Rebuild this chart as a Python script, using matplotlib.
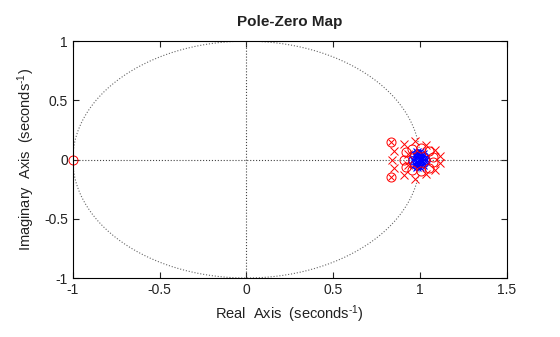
import numpy as np
import matplotlib
matplotlib.use('Agg')
import matplotlib.pyplot as plt

plt.rcParams['font.family'] = ['Liberation Sans', 'DejaVu Sans']
plt.rcParams['mathtext.fontset'] = 'custom'
plt.rcParams['mathtext.rm'] = 'Liberation Sans'
plt.rcParams['mathtext.default'] = 'regular'

# poles (red x) and zeros (red o) of the main system
pole_re = [0.838, 0.850, 0.850, 0.908, 0.908, 0.972, 0.972, 1.035, 1.035, 1.085, 1.085, 1.115, 1.115, 0.930, 0.930]
pole_im = [0.000, 0.070, -0.070, 0.130, -0.130, 0.160, -0.160, 0.125, -0.125, 0.085, -0.085, 0.030, -0.030, 0.045, -0.045]
zero_re = [-1.0, 0.905, 0.918, 0.918, 0.955, 0.955, 1.005, 1.005, 1.050, 1.050, 1.075, 1.075]
zero_im = [0.0, 0.000, 0.060, -0.060, 0.090, -0.090, 0.095, -0.095, 0.070, -0.070, 0.020, -0.020]
# coincident pole/zero pair
pz_re = [0.832, 0.832]
pz_im = [0.145, -0.145]
# second system (blue), clustered at z = 1
blue_pole_re = [0.96, 0.97, 0.97, 0.98, 0.98, 0.99, 0.99, 1.00, 1.00, 1.01, 1.01, 1.02, 1.02, 1.03, 1.03, 0.99, 1.00]
blue_pole_im = [0.00, 0.04, -0.04, 0.06, -0.06, 0.03, -0.03, 0.06, -0.06, 0.02, -0.02, 0.05, -0.05, 0.01, -0.01, 0.00, 0.00]
blue_zero_re = [0.955, 0.965, 0.965, 0.985, 0.985, 1.005, 1.005, 1.025, 1.025, 1.035, 0.995, 0.975]
blue_zero_im = [0.000, 0.035, -0.035, 0.055, -0.055, 0.045, -0.045, 0.030, -0.030, 0.000, 0.010, -0.010]

fig = plt.figure(figsize=(5.6, 3.37), dpi=100)
ax = fig.add_axes([0.130, 0.175, 0.775, 0.703])

# unit circle and axis lines
t = np.linspace(0, 2 * np.pi, 400)
ax.plot(np.cos(t), np.sin(t), color='#666666', linestyle=':', linewidth=0.8)
ax.axhline(0, color='#444444', linestyle=':', linewidth=0.8)
ax.axvline(0, color='#444444', linestyle=':', linewidth=0.8)

ax.plot(blue_zero_re, blue_zero_im, linestyle='none', marker='o', mfc='none', mec='blue', ms=5.5, mew=0.8)
ax.plot(blue_pole_re, blue_pole_im, linestyle='none', marker='x', color='blue', ms=5.5, mew=0.8)
ax.plot(pole_re, pole_im, linestyle='none', marker='x', color='red', ms=5.5, mew=0.7)
ax.plot(zero_re, zero_im, linestyle='none', marker='o', mfc='none', mec='red', ms=6.5, mew=0.7, clip_on=False)
ax.plot(pz_re, pz_im, linestyle='none', marker='x', color='red', ms=4.5, mew=0.7)
ax.plot(pz_re, pz_im, linestyle='none', marker='o', mfc='none', mec='red', ms=6.5, mew=0.7)

ax.set_xlim(-1, 1.5)
ax.set_ylim(-1, 1)
ax.set_xticks([-1, -0.5, 0, 0.5, 1, 1.5])
ax.set_xticklabels(['-1', '-0.5', '0', '0.5', '1', '1.5'])
ax.set_yticks([-1, -0.5, 0, 0.5, 1])
ax.set_yticklabels(['-1', '-0.5', '0', '0.5', '1'])
ax.tick_params(direction='in', top=True, right=True, labelsize=10, colors='#222222', length=4)
for s in ax.spines.values():
    s.set_linewidth(0.8)

ax.set_xlabel(r'Real  Axis  (seconds$^{\text{-1}}$)', fontsize=10.5, color='#222222', labelpad=5)
ax.set_ylabel(r'Imaginary  Axis  (seconds$^{\text{-1}}$)', fontsize=10.5, color='#222222', labelpad=5)
ax.set_title('Pole-Zero Map', fontsize=11, fontweight='bold', color='#222222', pad=11)

fig.savefig('out.png', dpi=100)
